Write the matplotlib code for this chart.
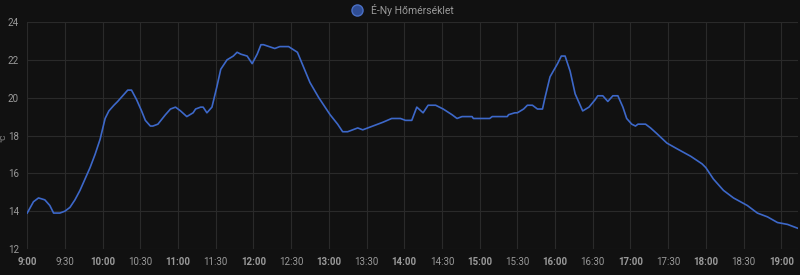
import matplotlib
matplotlib.use("Agg")
import matplotlib.pyplot as plt
from matplotlib.lines import Line2D

# ---------------- Data ----------------
times = ["9:00", "9:05", "9:09", "9:14", "9:18", "9:21", "9:26", "9:30", "9:34",
         "9:38", "9:42", "9:46", "9:50", "9:54", "9:58", "10:02", "10:05", "10:09",
         "10:12", "10:16", "10:20", "10:23", "10:27", "10:31", "10:34", "10:38",
         "10:40", "10:44", "10:50", "10:54", "10:58", "11:02", "11:07", "11:12",
         "11:14", "11:18", "11:20", "11:23", "11:27", "11:31", "11:34", "11:39",
         "11:44", "11:47", "11:50", "11:55", "11:59", "12:03", "12:06", "12:08",
         "12:17", "12:21", "12:28", "12:35", "12:40", "12:45", "12:52", "12:57",
         "13:01", "13:07", "13:11", "13:15", "13:23", "13:27", "13:35", "13:43",
         "13:50", "13:57", "14:01", "14:06", "14:10", "14:15", "14:19", "14:25",
         "14:31", "14:38", "14:42", "14:46", "14:54", "14:55", "15:08", "15:10",
         "15:22", "15:23", "15:28", "15:30", "15:35", "15:38", "15:42", "15:46",
         "15:50", "15:52", "15:56", "16:02", "16:05", "16:08", "16:12", "16:16",
         "16:22", "16:27", "16:32", "16:34", "16:38", "16:42", "16:46", "16:50",
         "16:54", "16:57", "17:01", "17:04", "17:06", "17:12", "17:16", "17:21",
         "17:29", "17:37", "17:48", "17:57", "18:00", "18:06", "18:14", "18:22",
         "18:33", "18:41", "18:49", "18:57", "19:05", "19:13"]
temps = [13.9, 14.5, 14.7, 14.6, 14.3, 13.9, 13.9, 14.0, 14.2, 14.6, 15.1, 15.7,
         16.3, 17.0, 17.8, 18.9, 19.3, 19.6, 19.8, 20.1, 20.4, 20.4, 19.9, 19.3,
         18.8, 18.5, 18.5, 18.6, 19.1, 19.4, 19.5, 19.3, 19.0, 19.2, 19.4, 19.5,
         19.5, 19.2, 19.5, 20.6, 21.5, 22.0, 22.2, 22.4, 22.3, 22.2, 21.8, 22.3,
         22.8, 22.8, 22.6, 22.7, 22.7, 22.4, 21.6, 20.8, 20.0, 19.5, 19.1, 18.6,
         18.2, 18.2, 18.4, 18.3, 18.5, 18.7, 18.9, 18.9, 18.8, 18.8, 19.5, 19.2,
         19.6, 19.6, 19.4, 19.1, 18.9, 19.0, 19.0, 18.9, 18.9, 19.0, 19.0, 19.1,
         19.2, 19.2, 19.4, 19.6, 19.6, 19.4, 19.4, 20.0, 21.1, 21.8, 22.2, 22.2,
         21.4, 20.2, 19.3, 19.5, 19.9, 20.1, 20.1, 19.8, 20.1, 20.1, 19.5, 18.9,
         18.6, 18.5, 18.6, 18.6, 18.4, 18.1, 17.6, 17.3, 16.9, 16.5, 16.3, 15.7,
         15.1, 14.7, 14.3, 13.9, 13.7, 13.4, 13.3, 13.1]

tick_labels = ["9:00", "9:30", "10:00", "10:30", "11:00", "11:30", "12:00",
               "12:30", "13:00", "13:30", "14:00", "14:30", "15:00", "15:30",
               "16:00", "16:30", "17:00", "17:30", "18:00", "18:30", "19:00"]
y_ticks = [12, 14, 16, 18, 20, 22, 24]
series_name = "É-Ny Hőmérséklet"


def to_min(s):
    h, m = s.split(":")
    return (int(h) - 9) * 60 + int(m)


x = [to_min(t) for t in times]
tick_pos = [to_min(t) for t in tick_labels]

# ---------------- Figure ----------------
bg = "#111111"
text_col = "#9a9a9a"
line_col = "#3d68c9"

plt.rcParams["font.family"] = ["Roboto", "DejaVu Sans"]

fig = plt.figure(figsize=(8, 2.75), dpi=100, facecolor=bg)
ax = fig.add_axes([0.034, 0.0945, 0.963, 0.8255], facecolor=bg)

ax.plot(x, temps, color=line_col, linewidth=1.2, solid_joinstyle="round")

ax.set_xlim(0, to_min("19:13"))
ax.set_ylim(12, 24)
ax.set_yticks(y_ticks)
ax.set_xticks(tick_pos)
ax.set_xticklabels(tick_labels)
for lbl, t in zip(ax.get_xticklabels(), tick_labels):
    if t.endswith(":00"):
        lbl.set_fontweight("bold")

ax.grid(True, color="#2a2a2a", linewidth=0.8)
ax.set_axisbelow(True)
for sp in ax.spines.values():
    sp.set_visible(False)
ax.tick_params(axis="both", length=0, colors=text_col, labelsize=7)
ax.tick_params(axis="x", pad=6)
ax.tick_params(axis="y", pad=6)

# unit label at the far left edge
fig.text(0.0, 0.5, "°C", rotation=90, color=text_col, fontsize=6,
         ha="left", va="center")

handle = Line2D([], [], marker="o", linestyle="none", markersize=8,
                markerfacecolor="#2f4d94", markeredgecolor="#4a6fc4")
fig.legend([handle], [series_name], loc="upper center",
           bbox_to_anchor=(0.5, 1.02), frameon=False, fontsize=7.5,
           labelcolor=text_col, handletextpad=0.3)

fig.savefig("out.png", dpi=100, facecolor=bg)
